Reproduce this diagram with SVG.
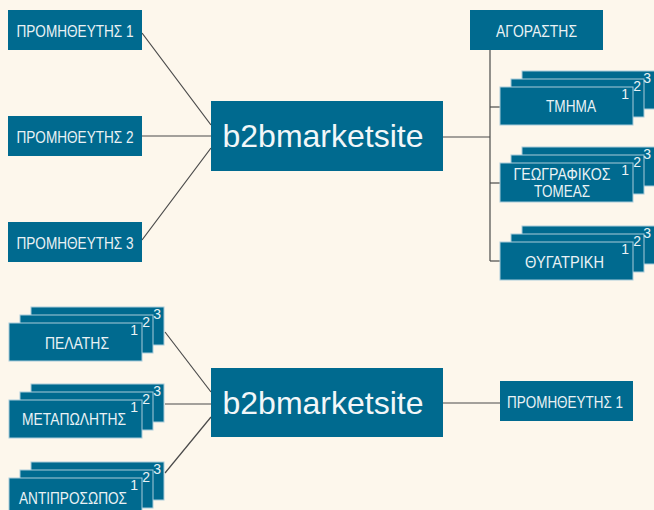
<svg xmlns="http://www.w3.org/2000/svg" width="654" height="510" viewBox="0 0 654 510">
<style>
.bg{fill:#FDF7EC}
.box{fill:#006A8F}
.stk{fill:#006A8F;stroke:#A9CCDA;stroke-width:1}
.lbl{font-family:"Liberation Sans",Arial,sans-serif;font-size:16px;fill:#EAF2F5;text-anchor:middle}
.big{font-family:"Liberation Sans",Arial,sans-serif;font-size:32px;fill:#F2F7F9;text-anchor:middle}
.num{font-family:"Liberation Sans",Arial,sans-serif;font-size:14px;fill:#EAF2F5;text-anchor:end}
.ln{stroke:#4a4a4a;stroke-width:1.2;fill:none}
</style>
<rect class="bg" x="0" y="0" width="654" height="510"/>
<g id="connectors">
<line class="ln" x1="142" y1="33" x2="211" y2="125"/>
<line class="ln" x1="142" y1="136" x2="211" y2="136"/>
<line class="ln" x1="142" y1="240" x2="211" y2="148"/>
<line class="ln" x1="443" y1="137" x2="490" y2="137"/>
<line class="ln" x1="490" y1="50" x2="490" y2="261"/>
<line class="ln" x1="490" y1="107" x2="500" y2="107"/>
<line class="ln" x1="490" y1="183" x2="500" y2="183"/>
<line class="ln" x1="490" y1="261" x2="500" y2="261"/>
<line class="ln" x1="165" y1="332" x2="211" y2="392"/>
<line class="ln" x1="165" y1="404" x2="211" y2="404"/>
<line class="ln" x1="165" y1="473" x2="211" y2="417"/>
<line class="ln" x1="443" y1="403" x2="500" y2="403"/>
</g>
<g id="promitheftis1">
<rect class="box" x="8" y="10" width="134" height="40"/>
<text class="lbl" x="75" y="37" textLength="117" lengthAdjust="spacingAndGlyphs">ΠΡΟΜΗΘΕΥΤΗΣ 1</text>
</g>
<g id="promitheftis2">
<rect class="box" x="8" y="116" width="134" height="40"/>
<text class="lbl" x="75" y="143" textLength="117" lengthAdjust="spacingAndGlyphs">ΠΡΟΜΗΘΕΥΤΗΣ 2</text>
</g>
<g id="promitheftis3">
<rect class="box" x="8" y="222" width="134" height="40"/>
<text class="lbl" x="75" y="249" textLength="117" lengthAdjust="spacingAndGlyphs">ΠΡΟΜΗΘΕΥΤΗΣ 3</text>
</g>
<g id="b2b-top">
<rect class="box" x="211" y="101" width="232" height="70"/>
<text class="big" x="323" y="147">b2bmarketsite</text>
</g>
<g id="agorastis">
<rect class="box" x="470" y="10" width="133" height="40"/>
<text class="lbl" x="536.5" y="37" textLength="81" lengthAdjust="spacingAndGlyphs">ΑΓΟΡΑΣΤΗΣ</text>
</g>
<g id="tmima">
<rect class="stk" x="522" y="71" width="133" height="38"/>
<rect class="stk" x="511" y="79" width="133" height="38"/>
<rect class="stk" x="500" y="87" width="133" height="38"/>
<text class="num" x="651" y="83">3</text>
<text class="num" x="641" y="91">2</text>
<text class="num" x="629" y="99">1</text>
<text class="lbl" x="571" y="112" textLength="50" lengthAdjust="spacingAndGlyphs">ΤΜΗΜΑ</text>
</g>
<g id="geografikos">
<rect class="stk" x="522" y="147" width="133" height="39"/>
<rect class="stk" x="511" y="155" width="133" height="39"/>
<rect class="stk" x="500" y="163" width="133" height="39"/>
<text class="num" x="651" y="159">3</text>
<text class="num" x="641" y="167">2</text>
<text class="num" x="629" y="175">1</text>
<text class="lbl" x="562" y="180" textLength="97" lengthAdjust="spacingAndGlyphs">ΓΕΩΓΡΑΦΙΚΟΣ</text>
<text class="lbl" x="562" y="197" textLength="56" lengthAdjust="spacingAndGlyphs">ΤΟΜΕΑΣ</text>
</g>
<g id="thygatriki">
<rect class="stk" x="522" y="226" width="133" height="38"/>
<rect class="stk" x="511" y="234" width="133" height="38"/>
<rect class="stk" x="500" y="242" width="133" height="38"/>
<text class="num" x="651" y="238">3</text>
<text class="num" x="641" y="246">2</text>
<text class="num" x="629" y="254">1</text>
<text class="lbl" x="564.5" y="268" textLength="79" lengthAdjust="spacingAndGlyphs">ΘΥΓΑΤΡΙΚΗ</text>
</g>
<g id="pelatis">
<rect class="stk" x="31" y="307" width="133" height="38"/>
<rect class="stk" x="20" y="315" width="133" height="38"/>
<rect class="stk" x="9" y="323" width="133" height="38"/>
<text class="num" x="161" y="319">3</text>
<text class="num" x="150" y="327">2</text>
<text class="num" x="138" y="335">1</text>
<text class="lbl" x="77" y="349" textLength="64" lengthAdjust="spacingAndGlyphs">ΠΕΛΑΤΗΣ</text>
</g>
<g id="metapolitis">
<rect class="stk" x="31" y="384" width="133" height="38"/>
<rect class="stk" x="20" y="392" width="133" height="38"/>
<rect class="stk" x="9" y="400" width="133" height="38"/>
<text class="num" x="161" y="396">3</text>
<text class="num" x="150" y="404">2</text>
<text class="num" x="138" y="412">1</text>
<text class="lbl" x="74" y="425" textLength="104" lengthAdjust="spacingAndGlyphs">ΜΕΤΑΠΩΛΗΤΗΣ</text>
</g>
<g id="antiprosopos">
<rect class="stk" x="31" y="462" width="133" height="38"/>
<rect class="stk" x="20" y="470" width="133" height="38"/>
<rect class="stk" x="9" y="478" width="133" height="38"/>
<text class="num" x="161" y="474">3</text>
<text class="num" x="150" y="482">2</text>
<text class="num" x="138" y="490">1</text>
<text class="lbl" x="73" y="504" textLength="108" lengthAdjust="spacingAndGlyphs">ΑΝΤΙΠΡΟΣΩΠΟΣ</text>
</g>
<g id="b2b-bottom">
<rect class="box" x="211" y="368" width="232" height="69"/>
<text class="big" x="323" y="414">b2bmarketsite</text>
</g>
<g id="promitheftis1-bottom">
<rect class="box" x="500" y="381" width="133" height="40"/>
<text class="lbl" x="565" y="408" textLength="116" lengthAdjust="spacingAndGlyphs">ΠΡΟΜΗΘΕΥΤΗΣ 1</text>
</g>
</svg>
